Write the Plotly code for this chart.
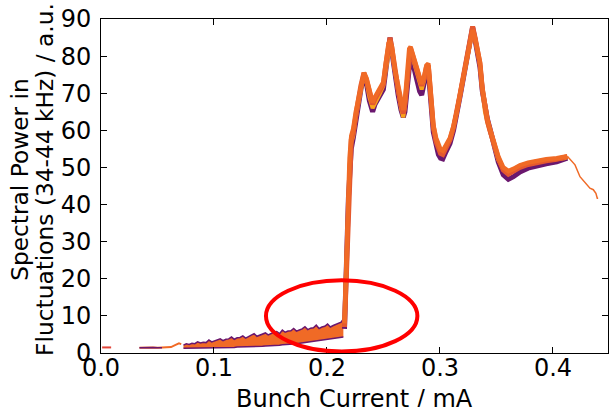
import plotly.graph_objects as go

# ---- data -------------------------------------------------------------
# earliest, very low-current points
early_x = [0.001, 0.004, 0.007, 0.010, 0.013]
early_y = [1.5, 1.5, 1.4, 1.5, 1.5]
pre_x = [0.034, 0.038, 0.042, 0.046, 0.050, 0.054, 0.058, 0.062, 0.066, 0.069, 0.071]
pre_y = [1.4, 1.5, 1.4, 1.5, 1.4, 1.4, 1.5, 1.6, 2.2, 2.6, 2.4]

# low-current band (below the instability threshold)
low_x = [0.073, 0.0755, 0.078, 0.0805, 0.083, 0.0855, 0.088, 0.0905, 0.093, 0.0955,
         0.098, 0.1005, 0.103, 0.1055, 0.108, 0.1105, 0.113, 0.1155, 0.118, 0.1205,
         0.123, 0.1255, 0.128, 0.1305, 0.133, 0.1355, 0.138, 0.1405, 0.143, 0.1455,
         0.148, 0.1505, 0.153, 0.1555, 0.158, 0.1605, 0.163, 0.1655, 0.168, 0.1705,
         0.173, 0.1755, 0.178, 0.1805, 0.183, 0.1855, 0.188, 0.1905, 0.193, 0.1955,
         0.198, 0.2005, 0.203, 0.2055, 0.208, 0.2105, 0.2125, 0.2145]
low_top = [2.1, 2.5, 2.3, 2.6, 2.5, 3.0, 2.7, 2.9, 2.8, 3.5,
           3.0, 3.2, 3.4, 3.8, 3.3, 3.7, 3.8, 4.3, 3.7, 4.1,
           4.2, 4.6, 4.0, 4.4, 4.7, 5.2, 4.5, 4.8, 5.1, 5.4,
           4.9, 5.3, 5.6, 5.8, 5.2, 6.2, 5.6, 5.9, 6.0, 6.6,
           5.9, 6.2, 6.5, 7.1, 6.3, 6.7, 6.8, 7.5, 6.6, 7.0,
           7.2, 7.8, 7.0, 7.4, 7.7, 8.1, 8.3, 9.2]
low_bot = [1.3, 1.3, 1.3, 1.3, 1.4, 1.4, 1.4, 1.4, 1.4, 1.4,
           1.4, 1.4, 1.5, 1.5, 1.5, 1.5, 1.5, 1.5, 1.5, 1.6,
           1.6, 1.6, 1.6, 1.7, 1.7, 1.7, 1.7, 1.8, 1.8, 1.9,
           1.9, 2.0, 2.0, 2.1, 2.1, 2.2, 2.2, 2.3, 2.4, 2.4,
           2.5, 2.6, 2.7, 2.8, 2.9, 3.0, 3.1, 3.2, 3.3, 3.4,
           3.5, 3.6, 3.7, 3.8, 3.9, 4.0, 4.1, 4.3]

# bursting regime: several measurement runs on a common current grid
hi_x = [0.2155, 0.2170, 0.2180, 0.2190, 0.2200, 0.2215, 0.2233, 0.2255, 0.2277, 0.2300,
        0.2327, 0.2350, 0.2375, 0.2404, 0.2425, 0.2445, 0.2470, 0.2499, 0.2520, 0.2545,
        0.2558, 0.2575, 0.2600, 0.2630, 0.2655, 0.2675, 0.2690, 0.2710, 0.2728, 0.2740,
        0.2760, 0.2779, 0.2800, 0.2820, 0.2838, 0.2860, 0.2880, 0.2897, 0.2911, 0.2925,
        0.2941, 0.2965, 0.2986, 0.3005, 0.3025, 0.3050, 0.3089, 0.3120, 0.3148, 0.3180,
        0.3207, 0.3240, 0.3270, 0.3289, 0.3310, 0.3330, 0.3354, 0.3375, 0.3398, 0.3420,
        0.3442, 0.3480, 0.3516, 0.3560, 0.3605, 0.3650, 0.3708, 0.3780, 0.3856, 0.3940,
        0.4033, 0.4100, 0.4127]
run_purple = [6.5, 18.0, 32.0, 42.0, 49.0, 55.0, 58.0, 63.0, 67.0, 71.0,
              74.5, 72.5, 68.0, 65.0, 67.0, 68.0, 69.5, 71.0, 76.0, 82.5,
              85.0, 81.0, 74.5, 69.5, 65.5, 63.5, 65.0, 72.0, 79.5, 80.5,
              78.0, 75.5, 73.0, 70.5, 69.5, 72.0, 75.5, 76.0, 72.0, 65.5,
              59.5, 55.5, 53.5, 52.5, 52.3, 54.0, 56.5, 60.0, 63.8, 69.5,
              74.0, 79.5, 84.8, 87.8, 84.5, 81.0, 77.0, 70.5, 66.0, 63.0,
              60.5, 55.5, 51.5, 48.0, 46.8, 47.5, 48.8, 49.8, 50.5, 51.0,
              51.5, 52.0, 52.5]
run_yellow = [7.5, 21.0, 35.0, 44.0, 50.5, 56.5, 58.5, 63.5, 67.5, 71.5,
              75.0, 73.0, 69.0, 66.0, 67.5, 68.5, 70.0, 72.0, 76.0, 82.0,
              83.0, 81.0, 75.5, 70.5, 66.0, 63.5, 66.5, 73.5, 80.5, 81.5,
              79.5, 77.5, 75.5, 73.0, 71.0, 73.5, 76.5, 77.0, 72.5, 66.5,
              60.5, 57.5, 55.5, 54.5, 54.5, 55.5, 57.5, 61.0, 64.5, 69.5,
              74.0, 79.5, 84.5, 87.0, 84.5, 81.5, 77.5, 70.5, 65.0, 62.0,
              59.5, 55.5, 52.0, 49.5, 48.8, 49.5, 50.5, 51.0, 51.7, 52.0,
              52.2, 52.5, 52.8]
run_red = [7.0, 19.5, 34.0, 44.5, 51.5, 57.5, 59.5, 64.5, 68.0, 72.0,
           75.5, 73.5, 70.0, 67.0, 68.5, 69.5, 71.0, 72.5, 77.5, 83.5,
           85.0, 82.0, 76.0, 71.0, 67.0, 64.5, 67.0, 74.0, 81.5, 82.0,
           80.0, 78.0, 76.0, 73.5, 72.0, 74.0, 77.0, 77.5, 73.0, 67.0,
           61.0, 57.0, 55.0, 53.8, 53.5, 55.0, 57.5, 60.8, 64.5, 70.0,
           74.5, 80.0, 85.0, 88.0, 85.0, 82.0, 78.0, 71.0, 65.5, 62.5,
           60.0, 56.0, 52.5, 49.3, 48.2, 49.0, 50.0, 50.8, 51.4, 51.8,
           52.2, 52.5, 52.9]
run_orange = [8.0, 22.0, 36.0, 46.0, 52.5, 58.5, 60.5, 65.0, 68.5, 72.5,
              75.5, 74.0, 70.5, 67.5, 69.0, 70.0, 71.5, 73.0, 78.0, 83.5,
              84.0, 82.5, 76.5, 71.5, 67.5, 65.5, 68.0, 75.0, 82.0, 82.5,
              80.5, 78.5, 76.5, 74.0, 72.5, 74.5, 77.5, 78.0, 73.5, 67.5,
              61.5, 58.0, 56.0, 54.8, 54.5, 55.8, 58.0, 61.2, 64.8, 70.3,
              74.8, 80.3, 85.3, 87.0, 85.0, 82.0, 78.3, 71.5, 66.0, 63.0,
              60.5, 56.5, 53.0, 50.0, 49.0, 49.6, 50.6, 51.3, 51.8, 52.2,
              52.5, 52.7, 53.0]
# single run that extends to the highest currents
tail_x = [0.4127, 0.4160, 0.4195, 0.4239, 0.4280, 0.4327, 0.4357, 0.4380, 0.4392, 0.4400]
tail_y = [53.0, 52.0, 50.7, 47.5, 46.0, 44.4, 44.0, 43.0, 41.7, 41.7]

x_ticks = [0.0, 0.1, 0.2, 0.3, 0.4]
y_ticks = [0, 10, 20, 30, 40, 50, 60, 70, 80, 90]

# ---- colours (inferno-like) ------------------------------------------
C_PURPLE = "#6a176e"
C_RED = "#e4582f"
C_ORANGE = "#f06a26"
C_YELLOW = "#f9a31a"
FONT = "DejaVu Sans"

fig = go.Figure()

fig.add_trace(go.Scatter(x=early_x, y=early_y, mode="lines",
                         line=dict(color="#e2463a", width=2, dash="dash")))
fig.add_trace(go.Scatter(x=pre_x, y=pre_y, mode="lines",
                         line=dict(color=C_ORANGE, width=2)))
fig.add_trace(go.Scatter(x=pre_x[:6], y=pre_y[:6], mode="lines",
                         line=dict(color=C_PURPLE, width=1.5)))

# low-current band: filled between lower and upper envelope
fig.add_trace(go.Scatter(x=low_x, y=low_bot, mode="lines",
                         line=dict(color=C_PURPLE, width=1.5)))
fig.add_trace(go.Scatter(x=low_x, y=low_top, mode="lines", fill="tonexty",
                         fillcolor=C_ORANGE, line=dict(color=C_PURPLE, width=1.5)))

# bursting-regime runs
for vals, col, w in [(run_purple, C_PURPLE, 5), (run_yellow, C_YELLOW, 4),
                     (run_red, C_RED, 5), (run_orange, C_ORANGE, 4.5)]:
    fig.add_trace(go.Scatter(x=hi_x, y=vals, mode="lines",
                             line=dict(color=col, width=w)))
fig.add_trace(go.Scatter(x=tail_x, y=tail_y, mode="lines",
                         line=dict(color=C_ORANGE, width=1.5)))

# threshold marker
fig.add_shape(type="circle", xref="x", yref="y",
              x0=0.146, x1=0.280, y0=0.4, y1=19.6,
              line=dict(color="#ff0000", width=4))

axis_common = dict(
    showline=True, linecolor="black", linewidth=1, mirror="ticks",
    ticks="inside", ticklen=6, tickwidth=1, tickcolor="black",
    showgrid=False, zeroline=False,
    tickfont=dict(family=FONT, size=24, color="black"),
)
fig.update_xaxes(range=[0, 0.4487], tickvals=x_ticks,
                 ticktext=[f"{v:.1f}" for v in x_ticks], ticklabelstandoff=-7,
                 **axis_common)
fig.update_yaxes(range=[0, 90], tickvals=y_ticks,
                 ticktext=[str(v) for v in y_ticks], ticklabelstandoff=4,
                 **axis_common)

fig.add_annotation(text="Bunch Current / mA", xref="paper", yref="paper",
                   x=0.5, y=-0.138, xanchor="center", yanchor="middle",
                   showarrow=False, font=dict(family=FONT, size=24, color="black"))
fig.add_annotation(text="Spectral Power in", xref="paper", yref="paper",
                   x=-0.160, y=0.521, xanchor="center", yanchor="middle",
                   textangle=-90, showarrow=False,
                   font=dict(family=FONT, size=23.3, color="black"))
fig.add_annotation(text="Fluctuations (34-44 kHz) / a.u.", xref="paper", yref="paper",
                   x=-0.1106, y=0.521, xanchor="center", yanchor="middle",
                   textangle=-90, showarrow=False,
                   font=dict(family=FONT, size=23.3, color="black"))

fig.update_layout(
    width=609, height=407,
    margin=dict(l=101, r=1, t=19, b=54),
    paper_bgcolor="white", plot_bgcolor="white",
    showlegend=False,
)

fig.write_html("out.html")
